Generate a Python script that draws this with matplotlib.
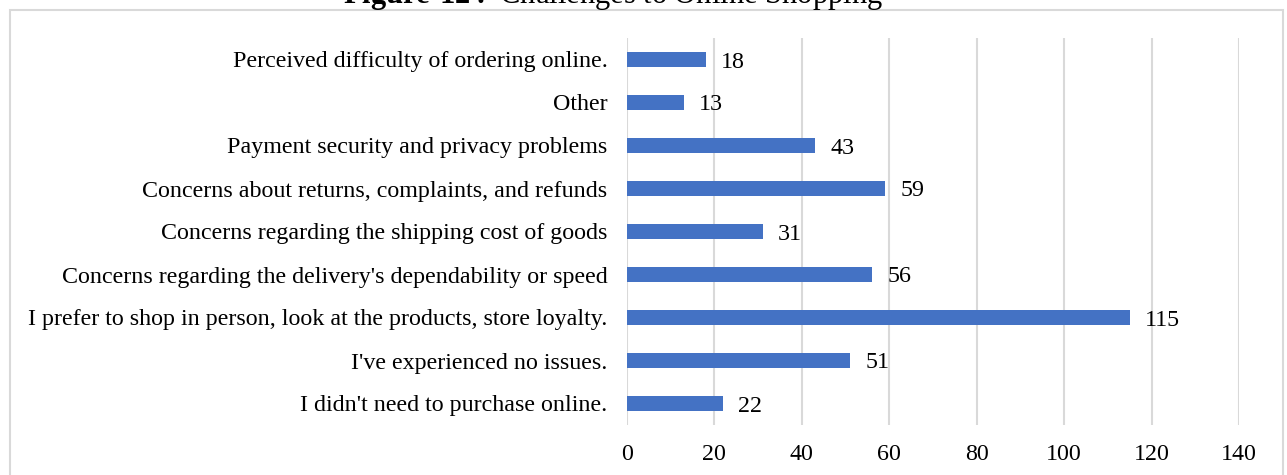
import matplotlib
matplotlib.use("Agg")
import matplotlib.pyplot as plt
from matplotlib.patches import Rectangle

categories = [
    "I didn't need to purchase online.",
    "I've experienced no issues.",
    "I prefer to shop in person, look at the products, store loyalty.",
    "Concerns regarding the delivery's dependability or speed",
    "Concerns regarding the shipping cost of goods",
    "Concerns about returns, complaints, and refunds",
    "Payment security and privacy problems",
    "Other",
    "Perceived difficulty of ordering online.",
]
values = [22, 51, 115, 56, 31, 59, 43, 13, 18]
xticks = [0, 20, 40, 60, 80, 100, 120, 140]

plt.rcParams["font.family"] = ["Liberation Serif", "DejaVu Serif"]
plt.rcParams["mathtext.fontset"] = "custom"
plt.rcParams["mathtext.rm"] = "Liberation Serif"
plt.rcParams["mathtext.bf"] = "Liberation Serif:bold"

W, H = 1287, 475
fig = plt.figure(figsize=(W / 100, H / 100), dpi=100)
ax = fig.add_axes([627 / W, 1 - 425 / H, (1239 - 627) / W, (425 - 38) / H])

bar_color = "#4472C4"
grid_color = "#d9d9d9"
fs = 17.3

y = range(len(categories))
ax.barh(y, values, height=0.37, color=bar_color, zorder=3)
for yi, v in zip(y, values):
    ax.annotate(str(v), (v, yi), xytext=(11, 0), textcoords="offset points",
                va="center_baseline", ha="left", fontsize=fs, color="black", zorder=4)

ax.set_xlim(0, 140)
ax.set_ylim(-0.5, len(categories) - 0.5)
ax.set_xticks(xticks)
ax.set_xticklabels([str(t) for t in xticks], fontsize=fs)
ax.set_yticks(list(y))
ax.set_yticklabels(categories, fontsize=fs)
ax.tick_params(axis="both", length=0)
ax.tick_params(axis="y", pad=14)
ax.tick_params(axis="x", pad=14)
ax.xaxis.grid(True, color=grid_color, linewidth=1.5, zorder=0)
ax.set_axisbelow(True)
for s in ax.spines.values():
    s.set_visible(False)

# outer chart frame
fig.patches.append(Rectangle((10 / W, -0.05), (1283 - 10) / W, 1 - 10 / H + 0.05,
                             transform=fig.transFigure, fill=False,
                             edgecolor=grid_color, linewidth=1.5))

fig.text(613 / W, 1 - 3 / H, r"$\bf{Figure\ 12:}$ Challenges to Online Shopping",
         ha="center", va="baseline", fontsize=22)

fig.savefig("out.png", dpi=100)
